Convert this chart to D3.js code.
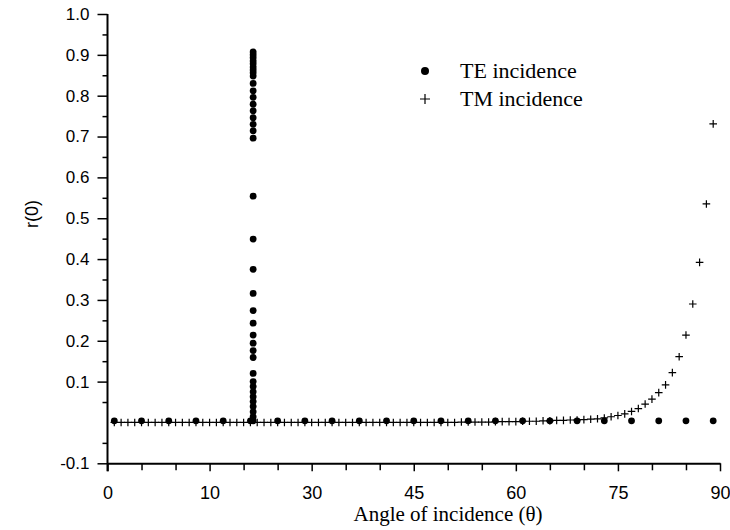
<!DOCTYPE html>
<html>
<head>
<meta charset="utf-8">
<script src="https://cdn.jsdelivr.net/npm/d3@7"></script>
<style>
  body { margin: 0; background: #fff; }
  svg { display: block; }
  .tick-label { font-family: "Liberation Sans", Arial, sans-serif; font-size: 17px; fill: #000; }
  .x-label { font-size: 18px; }
  .serif { font-family: "Liberation Serif", "Times New Roman", serif; fill: #000; }
</style>
</head>
<body>
<svg id="Diagram" width="730" height="530"></svg>
<script>
// TE incidence: regular sampling every 4 degrees
var teAngle = [1, 5, 9, 13, 17, 21, 25, 29, 33, 37, 41, 45, 49, 53, 57, 61, 65, 69, 73, 77, 81, 85, 89];
var teValue = [0.004, 0.004, 0.004, 0.004, 0.004, 0.004, 0.004, 0.004, 0.004, 0.004, 0.004, 0.004,
               0.004, 0.004, 0.004, 0.004, 0.004, 0.004, 0.004, 0.004, 0.004, 0.004, 0.004];

// TE incidence: dense column near the critical angle
var teColumnAngle = 21.4;
var teColumnValue = [0.907, 0.900, 0.893, 0.885, 0.878, 0.870, 0.863, 0.856, 0.848, 0.830,
                     0.812, 0.796, 0.779, 0.763, 0.746, 0.730, 0.714, 0.696, 0.554, 0.449,
                     0.375, 0.316, 0.274, 0.243, 0.214, 0.194, 0.176, 0.159, 0.120, 0.100,
                     0.088, 0.075, 0.063, 0.051, 0.039, 0.026, 0.014, 0.004];

// TM incidence: every degree
var tmAngle = [1, 2, 3, 4, 5, 6, 7, 8, 9, 10, 11, 12, 13, 14, 15, 16, 17, 18, 19, 20,
               21, 22, 23, 24, 25, 26, 27, 28, 29, 30, 31, 32, 33, 34, 35, 36, 37, 38, 39, 40,
               41, 42, 43, 44, 45, 46, 47, 48, 49, 50, 51, 52, 53, 54, 55, 56, 57, 58, 59, 60,
               61, 62, 63, 64, 65, 66, 67, 68, 69, 70, 71, 72, 73, 74, 75, 76, 77, 78, 79, 80,
               81, 82, 83, 84, 85, 86, 87, 88, 89];
var tmValue = [0, 0, 0, 0, 0, 0, 0, 0, 0, 0, 0, 0, 0, 0, 0, 0, 0, 0, 0, 0,
               0, 0, 0, 0, 0, 0, 0, 0, 0, 0, 0, 0, 0, 0, 0, 0, 0, 0, 0, 0,
               0, 0, 0, 0, 0, 0, 0, 0, 0, 0, 0, 0.001, 0.001, 0.001, 0.001, 0.001, 0.002, 0.002, 0.002, 0.002,
               0.003, 0.003, 0.003, 0.004, 0.004, 0.005, 0.005, 0.006, 0.006, 0.007,
               0.008, 0.009, 0.011, 0.014, 0.017, 0.021, 0.027, 0.034, 0.045, 0.057,
               0.073, 0.092, 0.122, 0.161, 0.214, 0.290, 0.392, 0.535, 0.731];

// axis ticks
var xMajorTicks = [0, 15, 30, 45, 60, 75, 90];
var xTickLabels = ["0", "10", "30", "45", "60", "75", "90"];
var xMinorTicks = [5, 10, 20, 25, 35, 40, 50, 55, 65, 70, 80, 85];
var yMajorTicks = [-0.1, 0.1, 0.2, 0.3, 0.4, 0.5, 0.6, 0.7, 0.8, 0.9, 1.0];
var yTickLabels = ["-0.1", "0.1", "0.2", "0.3", "0.4", "0.5", "0.6", "0.7", "0.8", "0.9", "1.0"];
var yMinorTicks = [-0.05, 0.05, 0.15, 0.25, 0.35, 0.45, 0.55, 0.65, 0.75, 0.85, 0.95];

var legendLabels = ["TE incidence", "TM incidence"];

var svg = d3.select("#Diagram");
var plotLeft = 107.5, plotRight = 720, plotTop = 14, plotBottom = 463.3;

var x = d3.scaleLinear().domain([0, 90]).range([plotLeft, plotRight]);
var y = d3.scaleLinear().domain([-0.1, 1.0]).range([plotBottom, plotTop]);

// X axis: minor ticks then labelled ticks
svg.append("g")
    .attr("transform", "translate(0," + plotBottom + ")")
    .call(d3.axisBottom(x).tickValues(xMinorTicks).tickSize(7).tickFormat(""))
    .call(function(g) { g.select(".domain").remove(); })
    .selectAll("line").attr("stroke-width", 1.5);

svg.append("g")
    .attr("transform", "translate(0," + plotBottom + ")")
    .call(d3.axisBottom(x).tickValues(xMajorTicks).tickSize(8).tickSizeOuter(0).tickPadding(15)
        .tickFormat(function(d, i) { return xTickLabels[i]; }))
    .call(function(g) {
        g.select(".domain").attr("stroke-width", 2);
        g.selectAll("line").attr("stroke-width", 1.5);
        g.selectAll("text").attr("class", "tick-label x-label").attr("font-family", null).attr("font-size", null);
    });

// Y axis
svg.append("g")
    .attr("transform", "translate(" + plotLeft + ",0)")
    .call(d3.axisLeft(y).tickValues(yMinorTicks).tickSize(5).tickFormat(""))
    .call(function(g) { g.select(".domain").remove(); })
    .selectAll("line").attr("stroke-width", 1.5);

svg.append("g")
    .attr("transform", "translate(" + plotLeft + ",0)")
    .call(d3.axisLeft(y).tickValues(yMajorTicks).tickSize(10).tickSizeOuter(0).tickPadding(8)
        .tickFormat(function(d, i) { return yTickLabels[i]; }))
    .call(function(g) {
        g.select(".domain").remove();
        g.selectAll("line").attr("stroke-width", 1.5);
        g.selectAll("text").attr("class", "tick-label").attr("font-family", null).attr("font-size", null);
    });

// y axis line, running a little past the x axis
svg.append("line")
    .attr("x1", plotLeft).attr("x2", plotLeft)
    .attr("y1", plotTop).attr("y2", plotBottom + 8)
    .attr("stroke", "#000").attr("stroke-width", 2);

// axis titles
svg.append("text")
    .attr("class", "serif")
    .attr("x", 448).attr("y", 521)
    .attr("text-anchor", "middle")
    .style("font-size", "21px")
    .text("Angle of incidence (\u03b8)");

svg.append("text")
    .attr("class", "tick-label")
    .attr("transform", "translate(38,214) rotate(-90)")
    .attr("text-anchor", "middle")
    .style("font-size", "18px")
    .text("r(0)");

// TM crosses
var cross = function(s) { return "M" + (-s) + ",0H" + s + "M0," + (-s) + "V" + s; };
svg.append("g")
    .selectAll("path")
    .data(tmAngle)
    .enter()
    .append("path")
    .attr("transform", function(d, i) { return "translate(" + x(d) + "," + y(tmValue[i]) + ")"; })
    .attr("d", cross(3.8))
    .attr("stroke", "#000")
    .attr("stroke-width", 1.2)
    .attr("fill", "none");

// TE dots
svg.append("g")
    .selectAll("circle")
    .data(teAngle)
    .enter()
    .append("circle")
    .attr("cx", function(d) { return x(d); })
    .attr("cy", function(d, i) { return y(teValue[i]); })
    .attr("r", 3.4)
    .attr("fill", "#000");

svg.append("g")
    .selectAll("circle")
    .data(teColumnValue)
    .enter()
    .append("circle")
    .attr("cx", x(teColumnAngle))
    .attr("cy", function(d) { return y(d); })
    .attr("r", 3.4)
    .attr("fill", "#000");

// legend
var legend = svg.append("g").attr("transform", "translate(425,71)");
legend.append("circle").attr("cx", 0).attr("cy", 0).attr("r", 4).attr("fill", "#000");
legend.append("path").attr("transform", "translate(0,28)").attr("d", cross(5))
    .attr("stroke", "#000").attr("stroke-width", 1.2);
legend.selectAll("text")
    .data(legendLabels)
    .enter()
    .append("text")
    .attr("class", "serif")
    .attr("x", 35)
    .attr("y", function(d, i) { return i * 28 + 7; })
    .style("font-size", "22px")
    .text(function(d) { return d; });
</script>
</body>
</html>
